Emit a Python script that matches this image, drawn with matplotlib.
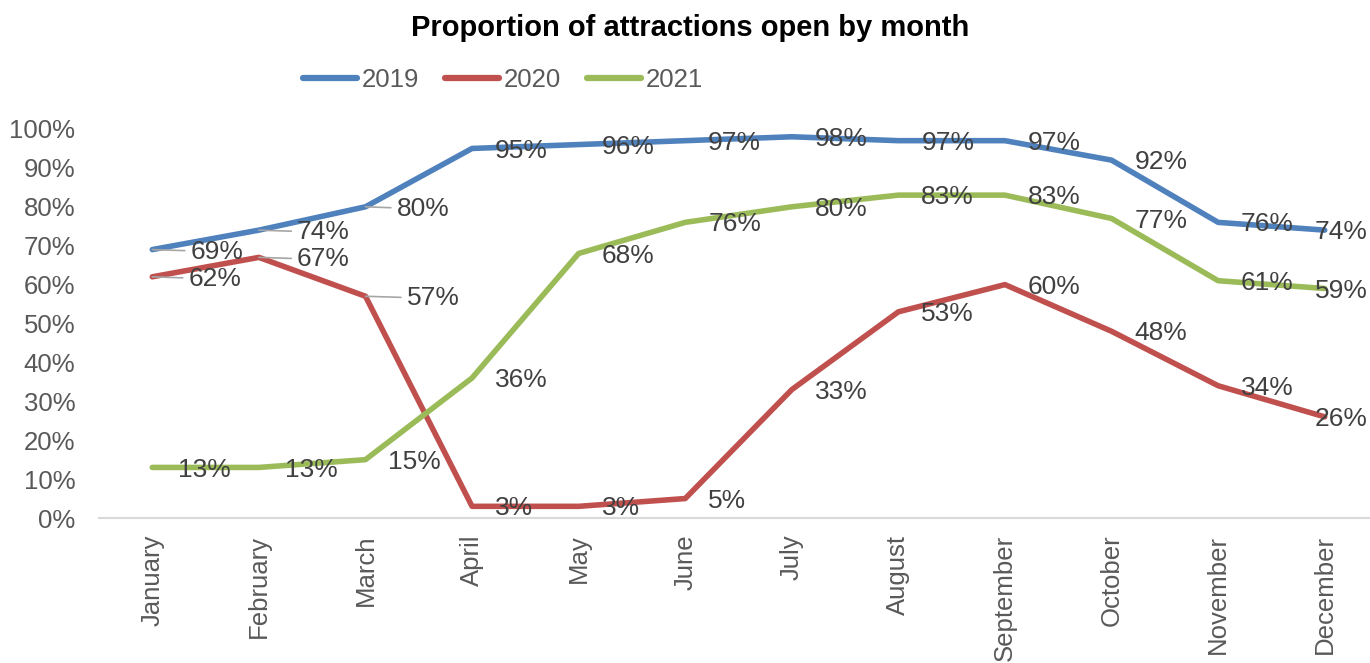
"""Proportion of attractions open by month, 2019-2021."""

import matplotlib

matplotlib.use("Agg")
import matplotlib.pyplot as plt
import numpy as np

months = [
    "January", "February", "March", "April", "May", "June",
    "July", "August", "September", "October", "November", "December",
]
years = ["2019", "2020", "2021"]
open_2019 = [69, 74, 80, 95, 96, 97, 98, 97, 97, 92, 76, 74]
open_2020 = [62, 67, 57, 3, 3, 5, 33, 53, 60, 48, 34, 26]
open_2021 = [13, 13, 15, 36, 68, 76, 80, 83, 83, 77, 61, 59]

# label placement (px right of point); leader lines where the label sits further out
label_dx = {
    "2019": [38, 38, 31] + [23] * 8 + [-10],
    "2020": [36, 38, 41] + [23] * 8 + [-10],
    "2021": [26] * 2 + [23] * 9 + [-10],
}
leader = {"2019": [0, 1, 2], "2020": [0, 1, 2], "2021": []}

colors = ["#4F81BD", "#C0504D", "#9BBB59"]
TXT = "#404040"
TICK = "#595959"

plt.rcParams["font.family"] = ["Liberation Sans", "DejaVu Sans"]

fig = plt.figure(figsize=(13.7, 6.63), dpi=100)
ax = fig.add_axes([99 / 1370, 145 / 663, 1279 / 1370, 389 / 663])

x = np.arange(len(months))
px2pt = 72 / 100
for year, vals, col in zip(years, [open_2019, open_2020, open_2021], colors):
    v = np.array(vals) / 100
    ax.plot(x, v, color=col, lw=4, solid_joinstyle="round", solid_capstyle="round",
            label=year, clip_on=False, zorder=3)
    for i, val in enumerate(vals):
        dx = label_dx[year][i] * px2pt
        arrow = None
        if i in leader[year]:
            arrow = dict(arrowstyle="-", color="#A6A6A6", lw=1.2, shrinkA=2, shrinkB=0)
        ax.annotate(f"{val}%", (x[i], v[i]), xytext=(dx, -1.5), textcoords="offset points",
                    ha="left", va="center", fontsize=19, color=TXT,
                    arrowprops=arrow, annotation_clip=False, zorder=4)

ax.set_xlim(-0.5, len(months) - 0.5)
ax.set_ylim(0, 1.0)
ax.set_yticks(np.arange(0, 1.01, 0.1))
ax.set_yticklabels([f"{int(round(t * 100))}%" for t in np.arange(0, 1.01, 0.1)])
ax.set_xticks(x)
ax.set_xticklabels(months, rotation=90, va="top", ha="center")
ax.tick_params(axis="both", length=0, labelsize=18.5, labelcolor=TICK)
ax.tick_params(axis="y", pad=17)
ax.tick_params(axis="x", pad=12)
for side in ["top", "right", "left"]:
    ax.spines[side].set_visible(False)
ax.spines["bottom"].set_color("#D9D9D9")
ax.spines["bottom"].set_linewidth(1.5)
ax.spines["bottom"].set_zorder(1)

fig.text(0.504, 1 - 28 / 663, "Proportion of attractions open by month",
         ha="center", va="center", fontsize=21, fontweight="bold", color="black")

leg = fig.legend(loc="center", bbox_to_anchor=(503 / 1370, 1 - 80 / 663), ncol=3,
                 frameon=False, fontsize=18.5, handlelength=2.1, handletextpad=0.2,
                 columnspacing=1.0, borderaxespad=0)
for t in leg.get_texts():
    t.set_color(TICK)
for h in leg.get_lines():
    h.set_linewidth(4.5)

fig.savefig("out.png", dpi=100)
